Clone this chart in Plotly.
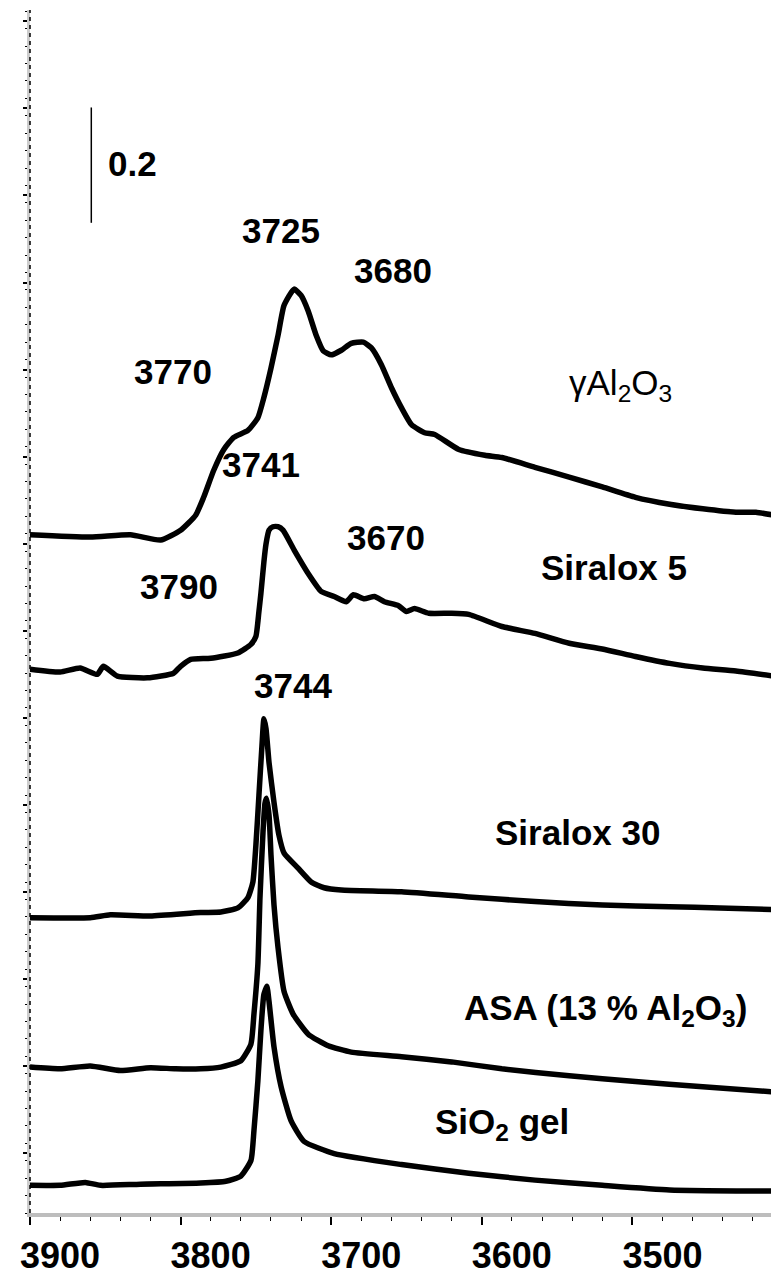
import plotly.graph_objects as go

# ---- data (wavenumber cm-1, absorbance, spectra offset as displayed) ----
gam_wn = [3900, 3860, 3833.3, 3813.3, 3800, 3790, 3784.7, 3778, 3771.3, 3764.7, 3755.3, 3748.7,
          3744.7, 3740, 3735.3, 3731.3, 3724.7, 3720, 3715.3, 3710, 3705.3, 3700, 3693.3, 3686.7,
          3678.7, 3673.3, 3666.7, 3660, 3653.3, 3646.7, 3638, 3631.3, 3615.3, 3598, 3586.7, 3564.7,
          3542, 3520, 3498, 3475.3, 3453.3, 3431.3, 3418, 3406]
gam_a = [1.176, 1.172, 1.176, 1.167, 1.184, 1.210, 1.241, 1.288, 1.324, 1.345, 1.357, 1.379,
         1.414, 1.465, 1.522, 1.574, 1.602, 1.591, 1.564, 1.522, 1.495, 1.488, 1.496, 1.508,
         1.510, 1.500, 1.471, 1.431, 1.396, 1.367, 1.353, 1.350, 1.324, 1.314, 1.310, 1.293,
         1.276, 1.259, 1.241, 1.229, 1.221, 1.215, 1.215, 1.210]

s5_wn = [3900, 3880, 3866.7, 3855.3, 3851.3, 3842, 3822, 3804.7, 3800, 3793.3, 3780, 3762,
         3753.3, 3750, 3748, 3746.7, 3744.7, 3743.3, 3741.3, 3738.7, 3735.3, 3732, 3724.7, 3715.3,
         3706.7, 3698, 3690, 3685.3, 3678, 3671.3, 3664.7, 3655.3, 3650, 3644.7, 3635.3, 3620,
         3608.7, 3586.7, 3564.7, 3542, 3520, 3498, 3475.3, 3453.3, 3431.3, 3406]
s5_a = [0.943, 0.938, 0.945, 0.934, 0.948, 0.931, 0.928, 0.936, 0.948, 0.960, 0.962, 0.971,
        0.986, 1.000, 1.043, 1.074, 1.129, 1.160, 1.184, 1.190, 1.190, 1.184, 1.150, 1.109,
        1.078, 1.069, 1.060, 1.072, 1.065, 1.069, 1.060, 1.053, 1.043, 1.048, 1.040, 1.040,
        1.038, 1.017, 1.005, 0.988, 0.978, 0.965, 0.953, 0.945, 0.940, 0.931]

s30_wn = [3900, 3860, 3846.7, 3820, 3786.7, 3773.3, 3762, 3755.3, 3752, 3750, 3748, 3746,
          3744.7, 3743.3, 3741.3, 3738, 3734.7, 3731.3, 3722, 3713.3, 3704.7, 3693.3, 3653.3,
          3608.7, 3564.7, 3520, 3475.3, 3442, 3406]
s30_a = [0.512, 0.512, 0.517, 0.515, 0.521, 0.522, 0.529, 0.547, 0.574, 0.638, 0.724, 0.810,
         0.857, 0.840, 0.781, 0.712, 0.655, 0.624, 0.598, 0.574, 0.564, 0.560, 0.557,
         0.548, 0.540, 0.534, 0.531, 0.529, 0.526]

asa_wn = [3900, 3880, 3860, 3840, 3820, 3803.3, 3786.7, 3773.3, 3760, 3753.3, 3751.3, 3748.7,
          3747.3, 3745.3, 3744, 3743, 3741.3, 3740, 3738, 3735.3, 3731.3, 3725.3, 3715.3, 3702,
          3686.7, 3653.3, 3620, 3586.7, 3542, 3498, 3453.3, 3406]
asa_a = [0.253, 0.250, 0.255, 0.247, 0.252, 0.250, 0.250, 0.253, 0.264, 0.293, 0.345, 0.431,
         0.547, 0.660, 0.710, 0.719, 0.690, 0.621, 0.534, 0.460, 0.384, 0.345, 0.310, 0.290,
         0.279, 0.271, 0.262, 0.250, 0.238, 0.228, 0.219, 0.210]

sio_wn = [3900, 3880, 3863.3, 3853.3, 3826.7, 3786.7, 3770, 3760, 3753.3, 3751.3, 3748.7, 3746.7,
          3744.7, 3742.7, 3741.3, 3738, 3733.3, 3726.7, 3718, 3698, 3653.3, 3608.7, 3564.7,
          3520, 3475.3, 3406]
sio_a = [0.048, 0.048, 0.053, 0.048, 0.050, 0.052, 0.055, 0.064, 0.091, 0.143, 0.229, 0.316,
         0.379, 0.393, 0.367, 0.288, 0.219, 0.160, 0.124, 0.103, 0.084, 0.069, 0.057,
         0.048, 0.040, 0.038]

x_ticks = [3900, 3800, 3700, 3600, 3500]
scale_bar_wn = 3859.3
scale_bar_a = [1.917, 1.717]

peak_labels = ["3725", "3680", "3770", "3741", "3670", "3790", "3744"]
peak_wn = [3733.3, 3658.7, 3805.3, 3746.7, 3663.3, 3801.3, 3725.3]
peak_a = [1.703, 1.634, 1.460, 1.298, 1.172, 1.086, 0.914]

name_labels = ["<b>Siralox 5</b>", "<b>Siralox 30</b>",
               "<b>ASA (13 % Al<sub>2</sub>O<sub>3</sub>)</b>", "<b>SiO<sub>2</sub> gel</b>"]
name_wn = [3512, 3536.7, 3518, 3586.7]
name_a = [1.119, 0.659, 0.352, 0.155]

FONT = "Liberation Sans, Arial, sans-serif"

fig = go.Figure()
for xs, ys in [(gam_wn, gam_a), (s5_wn, s5_a), (s30_wn, s30_a), (asa_wn, asa_a), (sio_wn, sio_a)]:
    fig.add_trace(go.Scatter(x=xs, y=ys, mode="lines",
                             line=dict(color="black", width=5.5, shape="spline", smoothing=0.5),
                             showlegend=False, hoverinfo="skip"))

# scale bar
fig.add_trace(go.Scatter(x=[scale_bar_wn, scale_bar_wn], y=scale_bar_a, mode="lines",
                         line=dict(color="black", width=1.5), showlegend=False, hoverinfo="skip"))

ann = []
ann.append(dict(x=3832, y=1.819, text="<b>0.2</b>"))
for t, x, y in zip(peak_labels, peak_wn, peak_a):
    ann.append(dict(x=x, y=y, text="<b>" + t + "</b>"))
ann.append(dict(x=3508, y=1.436, text="γAl<sub>2</sub>O<sub>3</sub>"))
for t, x, y in zip(name_labels, name_wn, name_a):
    ann.append(dict(x=x, y=y, text=t))
for a in ann:
    a.update(xref="x", yref="y", showarrow=False, xanchor="center", yanchor="middle",
             font=dict(family=FONT, size=35, color="black"))
fig.update_layout(annotations=ann)

fig.update_xaxes(range=[3900, 3408], tickvals=x_ticks, ticktext=[str(v) for v in x_ticks],
                 ticks="outside", ticklen=8, tickwidth=1.5, tickcolor="black",
                 minor=dict(dtick=20, ticks="outside", ticklen=4, tickwidth=1, tickcolor="black"),
                 showline=True, linecolor="#bdbdbd", linewidth=4, showgrid=False, zeroline=False,
                 tickfont=dict(family=FONT, size=36, color="black", weight="bold"),
                 ticklabelshift=-30, ticklabeloverflow="allow")
fig.update_yaxes(range=[0, 2.086], tick0=0.1034, dtick=0.151, showticklabels=False,
                 ticks="outside", ticklen=4, tickwidth=2, tickcolor="black",
                 minor=dict(dtick=0.0302, ticks="outside", ticklen=2, tickwidth=1, tickcolor="black"),
                 showline=True, linecolor="#cccccc", linewidth=3, showgrid=False, zeroline=False)

fig.add_shape(type="line", xref="paper", yref="paper", x0=0, x1=0, y0=0, y1=1,
              line=dict(color="black", width=1.5, dash="4px,4px"))

fig.update_layout(width=771, height=1276, margin=dict(l=30, r=0, t=10, b=56),
                  plot_bgcolor="white", paper_bgcolor="white")

fig.write_html("out.html")
